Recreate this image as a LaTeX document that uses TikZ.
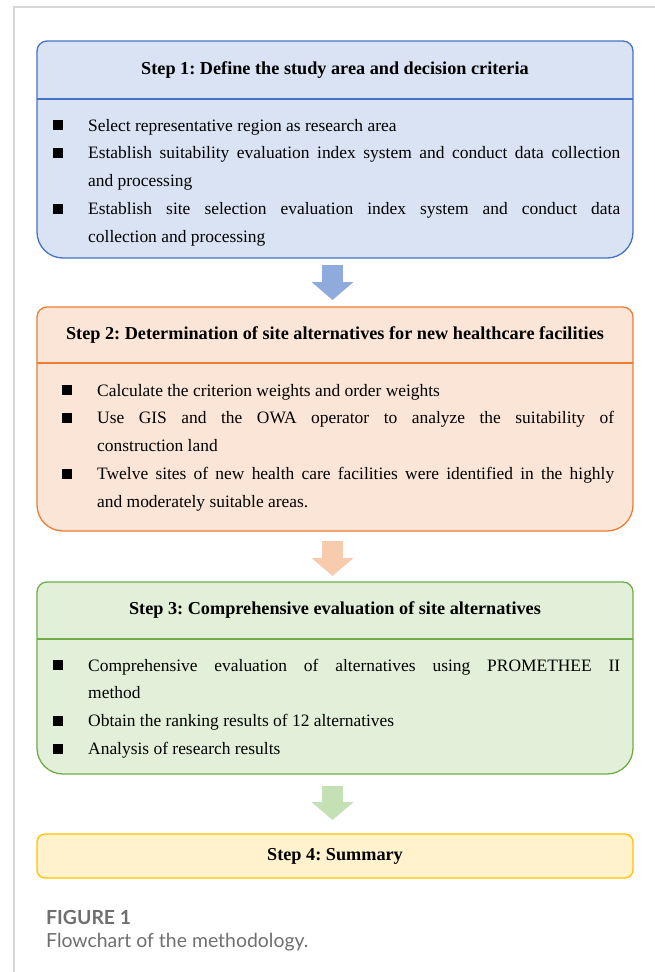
\documentclass[tikz,border=0pt]{standalone}
\usepackage{fontspec}
\setmainfont{Liberation Serif}
\newfontfamily\capfont{Lato}
\usetikzlibrary{arrows.meta}
\frenchspacing
\definecolor{bAfill}{HTML}{DAE3F3}\definecolor{bAdraw}{HTML}{4472C4}\definecolor{arA}{HTML}{8FAADC}
\definecolor{bBfill}{HTML}{FBE5D6}\definecolor{bBdraw}{HTML}{ED7D31}\definecolor{arB}{HTML}{F8CBAD}
\definecolor{bCfill}{HTML}{E2F0D9}\definecolor{bCdraw}{HTML}{70AD47}\definecolor{arC}{HTML}{C5E0B4}
\definecolor{bDfill}{HTML}{FFF2CC}\definecolor{bDdraw}{HTML}{FFC000}
\definecolor{framegray}{HTML}{D6D6D6}\definecolor{capgray}{HTML}{6F6F6F}
\newcommand{\bitem}[1]{\noindent\hangindent=35bp\hangafter=1\makebox[35bp][l]{\raisebox{1bp}{\rule{10bp}{10bp}}}#1\par}
\tikzset{
  boxline/.style={line width=1.3bp},
  titletext/.style={inner sep=0pt, font=\fontsize{18.3}{20}\selectfont\bfseries},
  bodytext/.style={anchor=base west, inner sep=0pt, align=justify,
     font=\fontsize{17.5}{28}\selectfont},
  blockarrow/.style={line width=21bp, -{Triangle[width=41bp,length=18bp]}},
}
\begin{document}
\begin{tikzpicture}[x=1bp,y=-1bp]
\useasboundingbox (0,0) rectangle (655,972);
\draw[framegray, line width=1.5bp] (14,972) -- (14,7) -- (655,7);
% Box 1
\path[draw=bAdraw, fill=bAfill, boxline] (37,150) [rounded corners=10bp] -- (37,41) -- (633,41) -- (633,150) [rounded corners=26bp] -- (633,258) -- (37,258) -- cycle;
\draw[bAdraw, boxline] (37,99) -- (633,99);
\node[titletext] (h1) at (335,70) {Step 1: Define the study area and decision criteria};
\node[bodytext, text width=567bp] (t1) at (53,131) {%
\bitem{Select representative region as research area}%
\bitem{Establish suitability evaluation index system and conduct data collection\linebreak and processing}%
\bitem{Establish site selection evaluation index system and conduct data\linebreak collection and processing}};
% Box 2
\path[draw=bBdraw, fill=bBfill, boxline] (37,420) [rounded corners=10bp] -- (37,307) -- (633,307) -- (633,420) [rounded corners=26bp] -- (633,531) -- (37,531) -- cycle;
\draw[bBdraw, boxline] (37,363) -- (633,363);
\node[titletext] (h2) at (335,335) {Step 2: Determination of site alternatives for new healthcare facilities};
\node[bodytext, text width=552bp] (t2) at (62,396) {%
\bitem{Calculate the criterion weights and order weights}%
\bitem{Use GIS and the OWA operator to analyze the suitability of\linebreak construction land}%
\bitem{Twelve sites of new health care facilities were identified in the highly\linebreak and moderately suitable areas.}};
% Box 3
\path[draw=bCdraw, fill=bCfill, boxline] (37,680) [rounded corners=10bp] -- (37,582) -- (633,582) -- (633,680) [rounded corners=26bp] -- (633,774) -- (37,774) -- cycle;
\draw[bCdraw, boxline] (37,639) -- (633,639);
\node[titletext] (h3) at (335,610) {Step 3: Comprehensive evaluation of site alternatives};
\node[bodytext, text width=567bp] (t3) at (53,671) {%
\bitem{Comprehensive evaluation of alternatives using PROMETHEE II\linebreak method}%
\bitem{Obtain the ranking results of 12 alternatives}%
\bitem{Analysis of research results}};
% Box 4
\path[draw=bDdraw, fill=bDfill, boxline, rounded corners=8bp] (37,834) rectangle (633,878);
\node[titletext] (h4) at (335,856) {Step 4: Summary};
% arrows
\coordinate (a1s) at (332.5,265); \coordinate (a1e) at (332.5,300);
\coordinate (a2s) at (332.5,541); \coordinate (a2e) at (332.5,576);
\coordinate (a3s) at (332.5,786); \coordinate (a3e) at (332.5,820);
\draw[blockarrow, arA] (a1s) -- (a1e);
\draw[blockarrow, arB] (a2s) -- (a2e);
\draw[blockarrow, arC] (a3s) -- (a3e);
% caption
\node[anchor=base west, inner sep=0pt, text=capgray, font=\capfont\bfseries\fontsize{19.5}{22}\selectfont] (fig) at (46,924) {FIGURE 1};
\node[anchor=base west, inner sep=0pt, text=capgray, font=\capfont\fontsize{19.5}{22}\selectfont] (cap) at (46,947) {Flowchart of the methodology.};
\end{tikzpicture}
\end{document}
